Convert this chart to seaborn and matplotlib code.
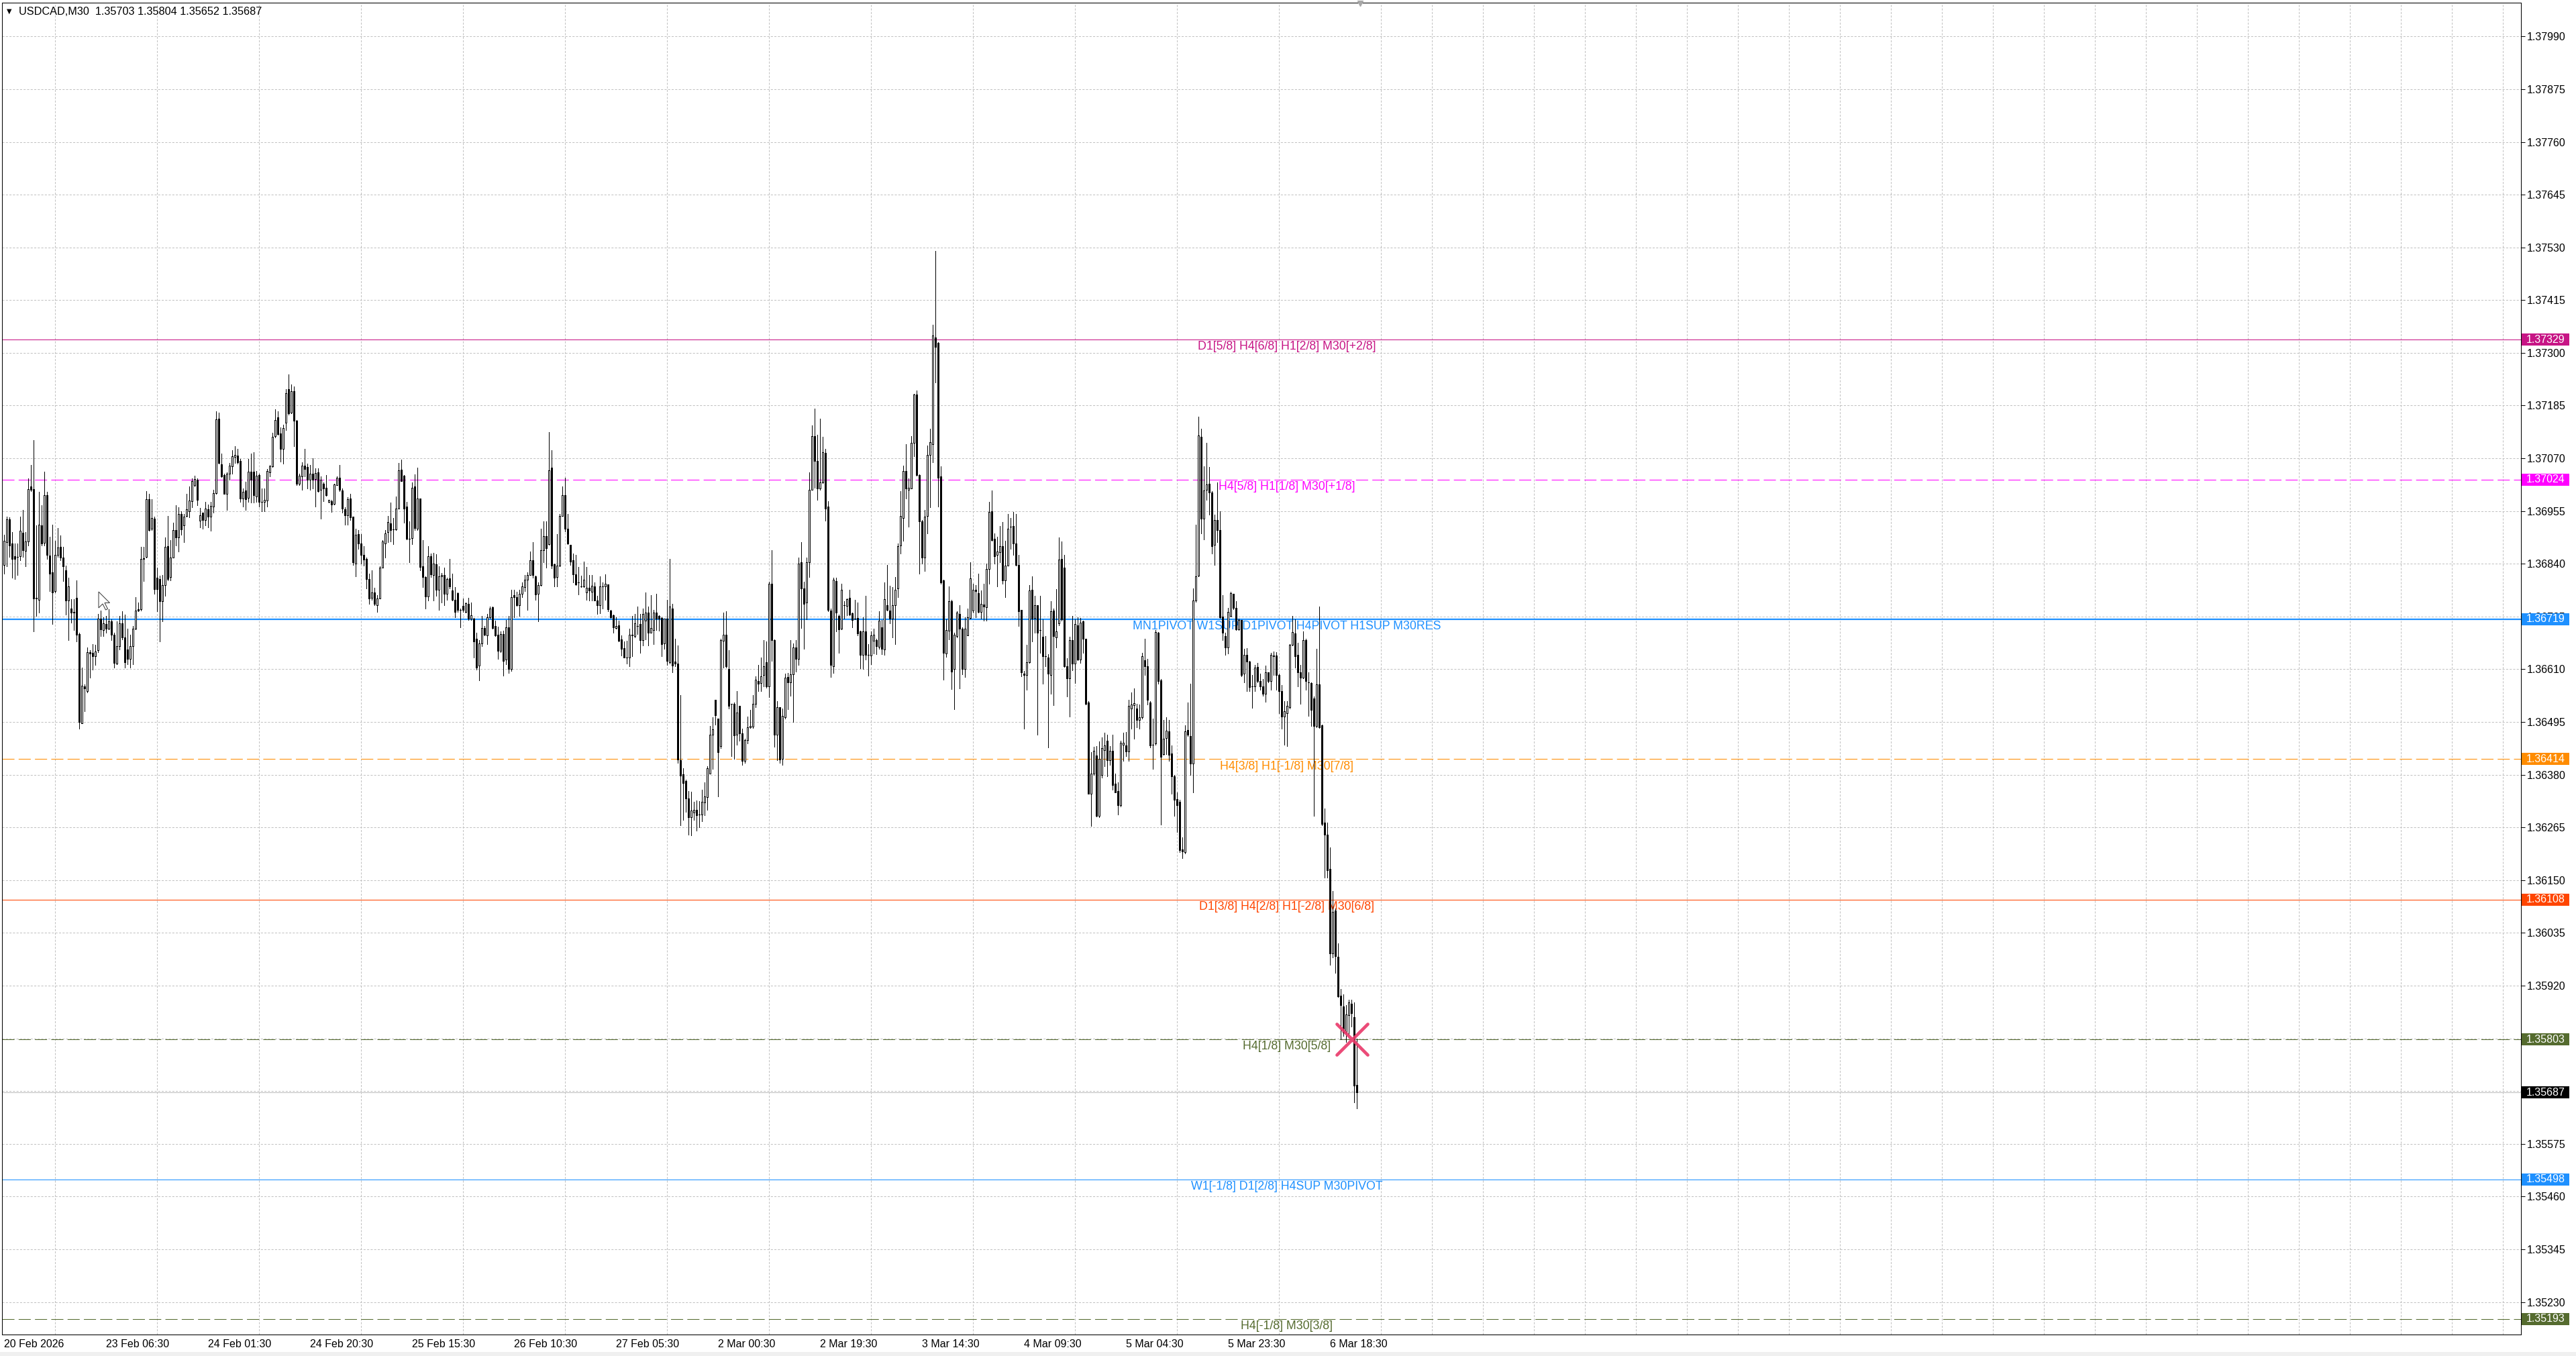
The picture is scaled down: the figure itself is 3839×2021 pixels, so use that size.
import numpy as np
import pandas as pd
import matplotlib
matplotlib.use("Agg")
import matplotlib.pyplot as plt
from matplotlib.patches import Rectangle, Polygon
from matplotlib.markers import MarkerStyle
from matplotlib.transforms import blended_transform_factory
import seaborn as sns

# USDCAD M30 candles, prices in points above 1.35000 (1 point = 0.00001)
PRICE_BASE = 1.35
POINT = 0.00001

bar_open = [
    1837,1887,1937,1884,1856,1855,1856,1908,1868,1889,
    2008,2003,1766,1761,1924,1886,1990,1858,1821,1780,
    1860,1877,1854,1826,1760,1742,1735,1766,1687,1492,
    1573,1563,1647,1646,1638,1651,1721,1696,1709,1698,
    1714,1685,1622,1660,1710,1680,1653,1632,1660,1698,
    1741,1741,1852,1855,1981,1916,1938,1809,1807,1759,
    1794,1878,1811,1854,1914,1898,1949,1924,1944,1955,
    1976,2012,2024,1934,1951,1935,1959,1943,1965,1994,
    2157,2057,2033,1993,2037,2053,2073,2076,2064,1982,
    2000,1984,2041,2041,1987,2034,1975,1975,1978,2040,
    2053,2118,2160,2124,2091,2147,2221,2170,2216,2152,
    2014,2031,2054,2051,2024,2037,2025,2039,2002,2014,
    2006,1975,1977,1970,2012,2027,2000,1959,1946,
    1983,1943,1841,1905,1884,1860,1851,1807,1766,1778,
    1750,1765,1832,1885,1909,1928,1915,1915,1961,2045,
    2032,1965,1894,1896,2009,1917,1982,1834,1811,1769,
    1856,1816,1839,1784,1812,1816,1774,1808,1782,1762,
    1776,1739,1748,1735,1753,1720,1721,1676,1618,1666,
    1700,1684,1723,1746,1704,1685,1650,1687,1631,1701,
    1611,1771,1768,1749,1774,1789,1805,1816,1848,1812,
    1774,1793,1870,1900,1883,2049,1839,1811,1836,1945,
    1989,1917,1881,1848,1817,1800,1791,1791,1778,1788,
    1779,1791,1760,1749,1791,1791,1795,1738,1728,1700,
    1706,1675,1656,1636,1635,1685,1682,1705,1709,1674,
    1716,1733,1689,1695,1733,1727,1722,1666,1721,1626,
    1743,1627,
    1622,1412,1381,1367,1329,1287,1297,1303,1293,1293,
    1320,1331,1382,1467,1543,1503,1442,1672,1685,1610,
    1534,1534,1467,1530,1470,1410,1455,1483,1485,1534,
    1585,1580,1598,1625,1572,1796,1673,1468,1527,1414,
    1505,1593,1581,1599,1658,1632,1843,1787,1756,1844,
    2001,2119,2065,2005,2017,2082,1965,1738,1617,1803,
    1727,1698,1749,1748,1766,1732,1721,1722,1693,1641,
    1693,1642,1640,1672,1674,1659,1701,1653,1749,1738,
    1721,1749,1787,1880,1940,2043,2002,2005,2104,2209,
    2034,1933,1853,1944,2078,2101,2333,2322,2031,1804,
    1645,1694,1758,1611,1683,1731,1699,1611,1684,1722,
    1738,1783,1776,1735,1751,1745,1828,1955,1894,1860,
    1865,1879,1804,1836,1921,1922,1885,1837,1739,1601,
    1597,1625,1783,1722,1749,1695,1681,1639,1635,1598,
    1738,1679,1710,1851,1832,1617,1590,1674,1622,1706,
    1631,1714,1676,1538,1339,1382,1422,1290,1380,1433,
    1454,1412,1432,1360,1344,1313,1446,1444,1431,1525,
    1532,1525,1499,1505,1630,1616,1538,1446,1448,1690,
    1586,1425,1460,1474,1426,1377,1327,1321,1217,1211,
    1478,1465,1405,1760,1814,2117,1938,2001,2014,1996,
    1881,1936,1914,1725,1682,1658,1727,1774,1744,1697,
    1717,1600,1641,1627,1573,1573,1615,1584,1573,1557,
    1603,1584,1640,1640,1598,1563,1507,1514,1528,1663,
    1688,1641,1603,1592,1674,1582,1580,1546,1486,1577,
    1488,1276,1249,1174,991,1084,983,898,875,817,
    856,881,851,703,
]

bar_high = [
    1904,1943,1941,1909,1885,1885,1943,1958,1909,2026,
    2056,2109,1924,1997,1968,2041,1997,1899,1926,1890,
    1918,1902,1877,1836,1809,1763,1763,1804,1690,1614,
    1577,1658,1651,1665,1663,1731,1738,1724,1726,1741,
    1719,1690,1714,1726,1736,1729,1699,1685,1704,1768,
    1755,1877,1877,1998,1992,1981,1943,1831,1814,1816,
    1897,1944,1892,1930,1968,1963,1954,1948,1993,2009,
    2026,2032,2026,1962,1952,1975,1969,1975,2002,2172,
    2170,2080,2036,2039,2060,2087,2097,2090,2068,2004,
    2019,2068,2081,2084,2043,2037,2004,2004,2046,2055,
    2126,2177,2172,2138,2143,2221,2253,2231,2226,2153,
    2036,2061,2090,2058,2055,2070,2048,2048,2031,2017,
    2034,1980,1980,2015,2030,2056,2004,1963,1985,
    1993,1943,1916,1913,1905,1878,1853,1818,1826,1788,
    1772,1835,1892,1913,1945,1973,1940,1987,2060,2067,
    2033,1975,1933,2017,2035,2050,1983,1892,1812,1879,
    1862,1864,1861,1834,1820,1832,1809,1851,1819,1789,
    1777,1743,1765,1755,1766,1756,1722,1689,1674,1727,
    1705,1731,1747,1747,1716,1703,1692,1694,1718,1726,
    1784,1784,1779,1784,1799,1816,1821,1867,1887,1814,
    1799,1916,1932,1933,2127,2088,1840,1905,1948,2009,
    2027,1948,1882,1862,1860,1833,1814,1845,1833,1816,
    1816,1799,1770,1812,1799,1817,1795,1739,1729,1723,
    1716,1684,1671,1672,1699,1726,1731,1747,1731,1743,
    1777,1747,1772,1739,1774,1728,1723,1721,1762,1851,
    1753,1677,
    1662,1553,1394,1370,1344,1343,1321,1324,1322,1348,
    1363,1399,1487,1505,1543,1503,1677,1733,1737,1651,
    1535,1538,1563,1530,1481,1458,1507,1521,1553,1594,
    1619,1636,1674,1670,1801,1870,1675,1541,1528,1524,
    1601,1602,1674,1666,1674,1853,1887,1801,1853,2039,
    2142,2179,2121,2156,2117,2091,1977,1743,1809,1809,
    1729,1797,1759,1765,1784,1733,1761,1755,1694,1723,
    1770,1665,1692,1699,1677,1736,1718,1799,1838,1792,
    1789,1811,1884,1999,2054,2101,2026,2118,2211,2218,
    2035,1935,1957,2098,2134,2361,2522,2323,2053,1805,
    1719,1791,1762,1689,1736,1750,1701,1723,1742,1844,
    1797,1794,1819,1782,1797,1840,1975,2000,1906,1899,
    1922,1931,1890,1949,1940,1953,1949,1860,1740,1606,
    1664,1793,1812,1770,1750,1770,1719,1682,1643,1758,
    1742,1785,1898,1888,1860,1634,1681,1727,1719,1723,
    1722,1716,1677,1541,1430,1441,1443,1452,1462,1471,
    1468,1443,1468,1382,1363,1454,1471,1473,1543,1560,
    1568,1535,1533,1646,1677,1633,1541,1502,1695,1691,
    1589,1500,1506,1500,1444,1379,1341,1325,1243,1488,
    1538,1579,1787,1926,2161,2134,2052,2104,2051,1998,
    1947,2017,1955,1771,1690,1744,1779,1774,1758,1721,
    1718,1655,1656,1628,1598,1620,1624,1601,1589,1618,
    1604,1646,1649,1647,1601,1576,1541,1541,1665,1726,
    1719,1668,1620,1693,1676,1604,1582,1551,1655,1747,
    1490,1306,1275,1222,1127,1088,1012,913,901,877,
    889,890,884,804,
]

bar_low = [
    1819,1834,1855,1809,1807,1816,1848,1855,1834,1880,
    1999,1692,1726,1734,1880,1880,1851,1780,1709,1777,
    1855,1848,1802,1729,1674,1712,1695,1670,1480,1492,
    1519,1560,1592,1609,1619,1648,1682,1682,1690,1697,
    1674,1614,1621,1653,1675,1614,1621,1614,1621,1697,
    1736,1738,1802,1853,1912,1914,1775,1736,1670,1714,
    1770,1804,1804,1853,1880,1867,1904,1887,1943,1941,
    1963,2009,1967,1919,1916,1924,1919,1912,1952,1992,
    2058,2029,1992,1957,2024,2036,2060,2058,1975,1965,
    1957,1975,1974,1973,1975,1965,1955,1955,1965,2031,
    2051,2116,2121,2063,2058,2131,2165,2168,2097,2012,
    2012,2002,2031,2004,2002,2004,1965,1997,1938,1977,
    1988,1973,1953,1969,2012,1999,1951,1926,1926,
    1935,1838,1813,1872,1840,1836,1787,1752,1762,1750,
    1735,1765,1831,1854,1887,1889,1883,1914,1960,2021,
    1930,1893,1843,1883,1913,1913,1826,1789,1743,1760,
    1811,1760,1770,1740,1756,1750,1761,1787,1760,1723,
    1735,1701,1735,1734,1718,1717,1636,1609,1586,1661,
    1684,1665,1721,1699,1682,1632,1648,1596,1621,1602,
    1607,1724,1748,1726,1767,1781,1740,1815,1809,1761,
    1715,1792,1844,1831,1882,1830,1791,1791,1835,1944,
    1910,1883,1838,1799,1793,1773,1789,1789,1762,1760,
    1760,1760,1731,1732,1743,1762,1737,1722,1690,1699,
    1670,1640,1636,1623,1616,1638,1680,1687,1646,1662,
    1675,1662,1689,1665,1696,1694,1638,1655,1620,1623,
    1604,1616,
    1406,1270,1282,1299,1250,1248,1282,1258,1265,1279,
    1292,1303,1382,1392,1489,1333,1438,1614,1614,1524,
    1421,1414,1445,1454,1402,1406,1448,1482,1482,1528,
    1563,1563,1572,1570,1549,1628,1441,1412,1406,1401,
    1502,1523,1552,1495,1605,1619,1700,1654,1719,1811,
    2001,2006,1979,2001,2016,1934,1736,1593,1602,1692,
    1646,1697,1721,1728,1728,1701,1719,1684,1612,1611,
    1631,1596,1621,1645,1643,1655,1643,1641,1738,1710,
    1680,1665,1768,1862,1890,1983,1921,2004,2075,2032,
    1819,1840,1825,1906,1963,2062,2236,1965,1797,1587,
    1637,1675,1567,1523,1679,1568,1599,1593,1684,1721,
    1734,1723,1733,1721,1716,1716,1797,1890,1840,1791,
    1843,1797,1768,1836,1872,1860,1836,1704,1594,1480,
    1566,1624,1670,1690,1468,1646,1579,1617,1440,1557,
    1532,1658,1706,1716,1615,1551,1507,1608,1580,1630,
    1624,1646,1533,1338,1269,1379,1289,1287,1374,1398,
    1377,1401,1347,1341,1293,1311,1411,1420,1411,1481,
    1459,1484,1481,1503,1598,1533,1440,1392,1446,1579,
    1271,1424,1425,1411,1338,1290,1255,1211,1198,1208,
    1465,1379,1342,1757,1813,1906,1893,1979,1947,1863,
    1837,1887,1722,1674,1641,1645,1725,1741,1695,1695,
    1595,1581,1563,1563,1526,1563,1582,1566,1552,1539,
    1582,1565,1598,1566,1514,1481,1446,1443,1525,1662,
    1614,1573,1535,1590,1566,1509,1487,1290,1484,1482,
    1270,1155,1155,965,982,948,895,803,811,797,
    814,831,665,652,
]

bar_close = [
    1890,1937,1880,1851,1851,1855,1912,1869,1889,2003,
    2001,1765,1765,1926,1885,1990,1859,1819,1777,1860,
    1876,1854,1835,1760,1791,1733,1733,1686,1495,1574,
    1568,1647,1645,1639,1649,1720,1697,1710,1699,1714,
    1686,1624,1660,1710,1680,1626,1632,1661,1698,1738,
    1738,1851,1851,1981,1914,1940,1785,1785,1758,1794,
    1877,1807,1854,1913,1898,1949,1915,1943,1959,1978,
    2020,2025,1979,1946,1936,1960,1943,1966,1994,2155,
    2060,2031,1993,2037,2054,2075,2077,2062,1982,1997,
    1981,2041,2024,1990,2032,1975,1975,1980,2042,2053,
    2117,2154,2123,2090,2136,2212,2168,2216,2152,2014,
    2032,2054,2046,2024,2036,2024,2038,1998,2024,2005,
    1990,1979,1969,2013,2027,2001,1961,1946,1981,
    1942,1844,1903,1885,1860,1849,1807,1765,1778,1752,
    1765,1832,1888,1906,1931,1914,1915,1961,2044,2021,
    1961,1894,1894,2006,1918,1983,1833,1811,1769,1856,
    1817,1840,1783,1812,1815,1774,1807,1790,1761,1735,
    1739,1739,1740,1754,1721,1728,1670,1614,1667,1700,
    1685,1724,1743,1700,1684,1650,1687,1628,1701,1611,
    1768,1768,1749,1774,1791,1805,1816,1848,1815,1773,
    1793,1870,1901,1874,2044,1836,1809,1836,1945,1989,
    1916,1884,1845,1817,1795,1799,1791,1806,1788,1782,
    1792,1760,1749,1791,1791,1796,1741,1723,1701,1704,
    1672,1654,1636,1636,1685,1684,1710,1705,1674,1731,
    1733,1689,1700,1734,1721,1721,1665,1721,1628,1747,
    1618,1622,
    1413,1378,1362,1329,1287,1302,1304,1292,1293,1321,
    1332,1394,1467,1479,1510,1430,1674,1686,1616,1530,
    1534,1466,1516,1470,1410,1456,1483,1486,1534,1587,
    1578,1594,1616,1572,1797,1673,1468,1527,1413,1508,
    1592,1581,1599,1658,1632,1841,1787,1752,1844,2001,
    2119,2065,2005,2018,2083,1961,1739,1619,1805,1734,
    1697,1784,1749,1763,1729,1718,1721,1688,1641,1693,
    1641,1642,1684,1686,1661,1716,1654,1763,1739,1721,
    1749,1783,1879,1944,2043,2004,2006,2104,2209,2033,
    1932,1853,1943,2078,2105,2338,2313,2028,1799,1646,
    1695,1758,1605,1685,1733,1698,1611,1698,1723,1808,
    1784,1780,1735,1753,1747,1828,1953,1892,1856,1867,
    1879,1804,1836,1916,1921,1885,1837,1737,1604,1597,
    1625,1782,1720,1749,1690,1695,1639,1639,1600,1737,
    1682,1693,1849,1719,1617,1590,1674,1622,1709,1631,
    1712,1676,1535,1339,1382,1432,1290,1414,1438,1444,
    1412,1432,1357,1342,1313,1450,1450,1431,1530,1533,
    1536,1499,1506,1638,1616,1543,1444,1446,1691,1585,
    1419,1459,1476,1424,1376,1325,1314,1215,1213,1474,
    1467,1405,1760,1812,2120,1938,2000,2013,1995,1879,
    1935,1914,1723,1689,1657,1735,1776,1744,1697,1718,
    1598,1641,1627,1571,1573,1613,1585,1573,1557,1603,
    1585,1641,1638,1598,1562,1507,1518,1530,1663,1691,
    1639,1603,1592,1674,1585,1582,1522,1486,1577,1484,
    1273,1249,1172,990,1081,984,896,877,817,857,
    883,860,702,687,
]

# horizontal levels drawn by the indicator
level_prices = [1.37329, 1.37024, 1.36719, 1.36414, 1.36108, 1.35803, 1.35687, 1.35498, 1.35193]
level_names = [
    "D1[5/8] H4[6/8] H1[2/8] M30[+2/8]",
    "H4[5/8] H1[1/8] M30[+1/8]",
    "MN1PIVOT W1SUP D1PIVOT H4PIVOT H1SUP M30RES",
    "H4[3/8] H1[-1/8] M30[7/8]",
    "D1[3/8] H4[2/8] H1[-2/8] M30[6/8]",
    "H4[1/8] M30[5/8]",
    "",
    "W1[-1/8] D1[2/8] H4SUP M30PIVOT",
    "H4[-1/8] M30[3/8]",
]
level_colors = ["#c71585", "#ff00ff", "#1e90ff", "#ff8c00", "#ff4500",
                "#556b2f", "#c0c0c0", "#1e90ff", "#556b2f"]
level_styles = ["solid", "dash", "solid", "dash", "solid", "dash", "solid", "solid", "dash"]
level_widths = [0.75, 0.75, 1.6, 0.75, 0.75, 0.75, 0.75, 0.75, 0.75]
level_box_colors = ["#c71585", "#ff00ff", "#1e90ff", "#ff8c00", "#ff4500",
                    "#556b2f", "#000000", "#1e90ff", "#556b2f"]

price_ticks = [1.35230, 1.35345, 1.35460, 1.35575, 1.35690, 1.35805, 1.35920, 1.36035,
               1.36150, 1.36265, 1.36380, 1.36495, 1.36610, 1.36725, 1.36840, 1.36955,
               1.37070, 1.37185, 1.37300, 1.37415, 1.37530, 1.37645, 1.37760, 1.37875,
               1.37990]

time_tick_bars = [0, 38, 76, 114, 152, 190, 228, 266, 304, 342, 380, 418, 456, 494]
time_tick_labels = ["20 Feb 2026", "23 Feb 06:30", "24 Feb 01:30", "24 Feb 20:30",
                    "25 Feb 15:30", "26 Feb 10:30", "27 Feb 05:30", "2 Mar 00:30",
                    "2 Mar 19:30", "3 Mar 14:30", "4 Mar 09:30", "5 Mar 04:30",
                    "5 Mar 23:30", "6 Mar 18:30"]

header = "USDCAD,M30  1.35703 1.35804 1.35652 1.35687"
signal_bar = 502.3
signal_price = 1.35803

# ---------------------------------------------------------------
n = min(len(bar_open), len(bar_high), len(bar_low), len(bar_close))
df = pd.DataFrame({
    "bar": np.arange(n),
    "open": PRICE_BASE + np.array(bar_open[:n]) * POINT,
    "high": PRICE_BASE + np.array(bar_high[:n]) * POINT,
    "low": PRICE_BASE + np.array(bar_low[:n]) * POINT,
    "close": PRICE_BASE + np.array(bar_close[:n]) * POINT,
})
df["up"] = df["close"] >= df["open"]
df["body_lo"] = df[["open", "close"]].min(axis=1)
df["body_h"] = (df["close"] - df["open"]).abs()

sns.set_theme(style="white")
plt.rcParams["font.family"] = ["Liberation Sans", "DejaVu Sans"]
plt.rcParams["lines.scale_dashes"] = False
plt.rcParams["axes.axisbelow"] = True

W, H = 3839, 2021
fig = plt.figure(figsize=(W / 100, H / 100), dpi=100, facecolor="white")
ax_left, ax_right, ax_top, ax_bottom = 3, 3757, 4, 1989
ax = fig.add_axes([ax_left / W, (H - ax_bottom) / H,
                   (ax_right - ax_left) / W, (ax_bottom - ax_top) / H])
ax.set_facecolor("white")

# candles: thin 1px wicks, 3px bodies with a white core for rising bars
ax.vlines(df["bar"], df["low"], df["high"], color="black", linewidth=0.55,
          zorder=2, antialiased=False)
ax.bar(df["bar"], df["body_h"], bottom=df["body_lo"], width=0.52,
       color=np.where(df["up"], "white", "black"), edgecolor="black",
       linewidth=0.55, zorder=3, antialiased=False)

ax.set_xlim(-0.7, 937.8)
ax.set_ylim(1.351593, 1.380636)

# grid
grid_style = dict(color="#c0c0c0", linewidth=0.72, linestyle=(0, (2.2, 1.6)))
ax.set_yticks(price_ticks)
ax.set_yticklabels([f"{p:.5f}" for p in price_ticks])
ax.yaxis.grid(True, **grid_style)
ax.set_xticks(time_tick_bars)
ax.set_xticklabels(time_tick_labels, ha="left")
ax.set_xticks(np.arange(19, 938, 19), minor=True)
ax.xaxis.grid(True, which="minor", **grid_style)
ax.xaxis.grid(False, which="major")

ax.yaxis.tick_right()
ax.tick_params(axis="y", which="major", direction="out", length=4.3, width=0.72,
               color="black", pad=1.8, labelsize=11.5, labelcolor="black")
ax.tick_params(axis="x", which="major", direction="out", length=3.5, width=0.72,
               color="black", pad=1.5, labelsize=11.5, labelcolor="black")
ax.tick_params(axis="x", which="minor", length=0)
for sp in ax.spines.values():
    sp.set_color("black")
    sp.set_linewidth(0.75)

# level lines and captions sit behind the candles; price boxes on the scale
lab_tr = blended_transform_factory(ax.transAxes, ax.transData)
box_tr = blended_transform_factory(fig.transFigure, ax.transData)
px_price = (ax.get_ylim()[1] - ax.get_ylim()[0]) / (ax_bottom - ax_top)
box_h = 18 * px_price
box_x0, box_x1 = 3758 / W, 3829 / W
for price, name, col, sty, lw, bcol in zip(level_prices, level_names, level_colors,
                                            level_styles, level_widths, level_box_colors):
    ls = (0, (13, 4.5)) if sty == "dash" else "-"
    ax.axhline(price, color=col, linewidth=lw, linestyle=ls, zorder=1.6)
    if name:
        ax.annotate(name, xy=(0.5101, price), xycoords=lab_tr, xytext=(0, -1.6),
                    textcoords="offset points", ha="center", va="top",
                    color=col, fontsize=12.8, zorder=1.7)
    ax.add_patch(Rectangle((box_x0, price - box_h / 2), box_x1 - box_x0, box_h,
                           transform=box_tr, facecolor=bcol, edgecolor="none",
                           clip_on=False, zorder=7))
    ax.text((box_x0 + box_x1) / 2, price, f"{price:.5f}", transform=box_tr,
            color="white", ha="center", va="center", fontsize=11.5,
            clip_on=False, zorder=8)

# signal cross
ax.plot([signal_bar], [signal_price], linestyle="none",
        marker=MarkerStyle("x", capstyle="round"), markersize=33,
        markeredgewidth=3.4, color="#ea3c6c", alpha=0.92, zorder=9)

# header, chart-shift marker, mouse pointer, bottom strip
fig.text(9.5 / W, 1 - 16.5 / H, "\u25bc", fontsize=7, color="black", va="center",
         family=["DejaVu Sans"])
fig.text(28.5 / W, 1 - 17 / H, header, fontsize=11.7, color="black", va="center", ha="left")
fig.lines.append(plt.Line2D([2027 / W], [1 - 5 / H], transform=fig.transFigure,
                            marker="v", markersize=6, color="#a8a8a8", linestyle="none"))
cursor_px = [(0, 0), (0, 24), (6, 18), (10.5, 27), (13.5, 25.5), (9, 16.5), (16.5, 16.5)]
tip_x, tip_y = 147, 882
fig.patches.append(Polygon([((tip_x + dx) / W, 1 - (tip_y + dy) / H) for dx, dy in cursor_px],
                           closed=True, transform=fig.transFigure, facecolor="white",
                           edgecolor="#404040", linewidth=0.75, zorder=10))
fig.patches.append(Rectangle((0, 0), 1, 6 / H, transform=fig.transFigure,
                             facecolor="#f0f0f0", edgecolor="none"))

fig.savefig("out.png", dpi=100, facecolor="white")
